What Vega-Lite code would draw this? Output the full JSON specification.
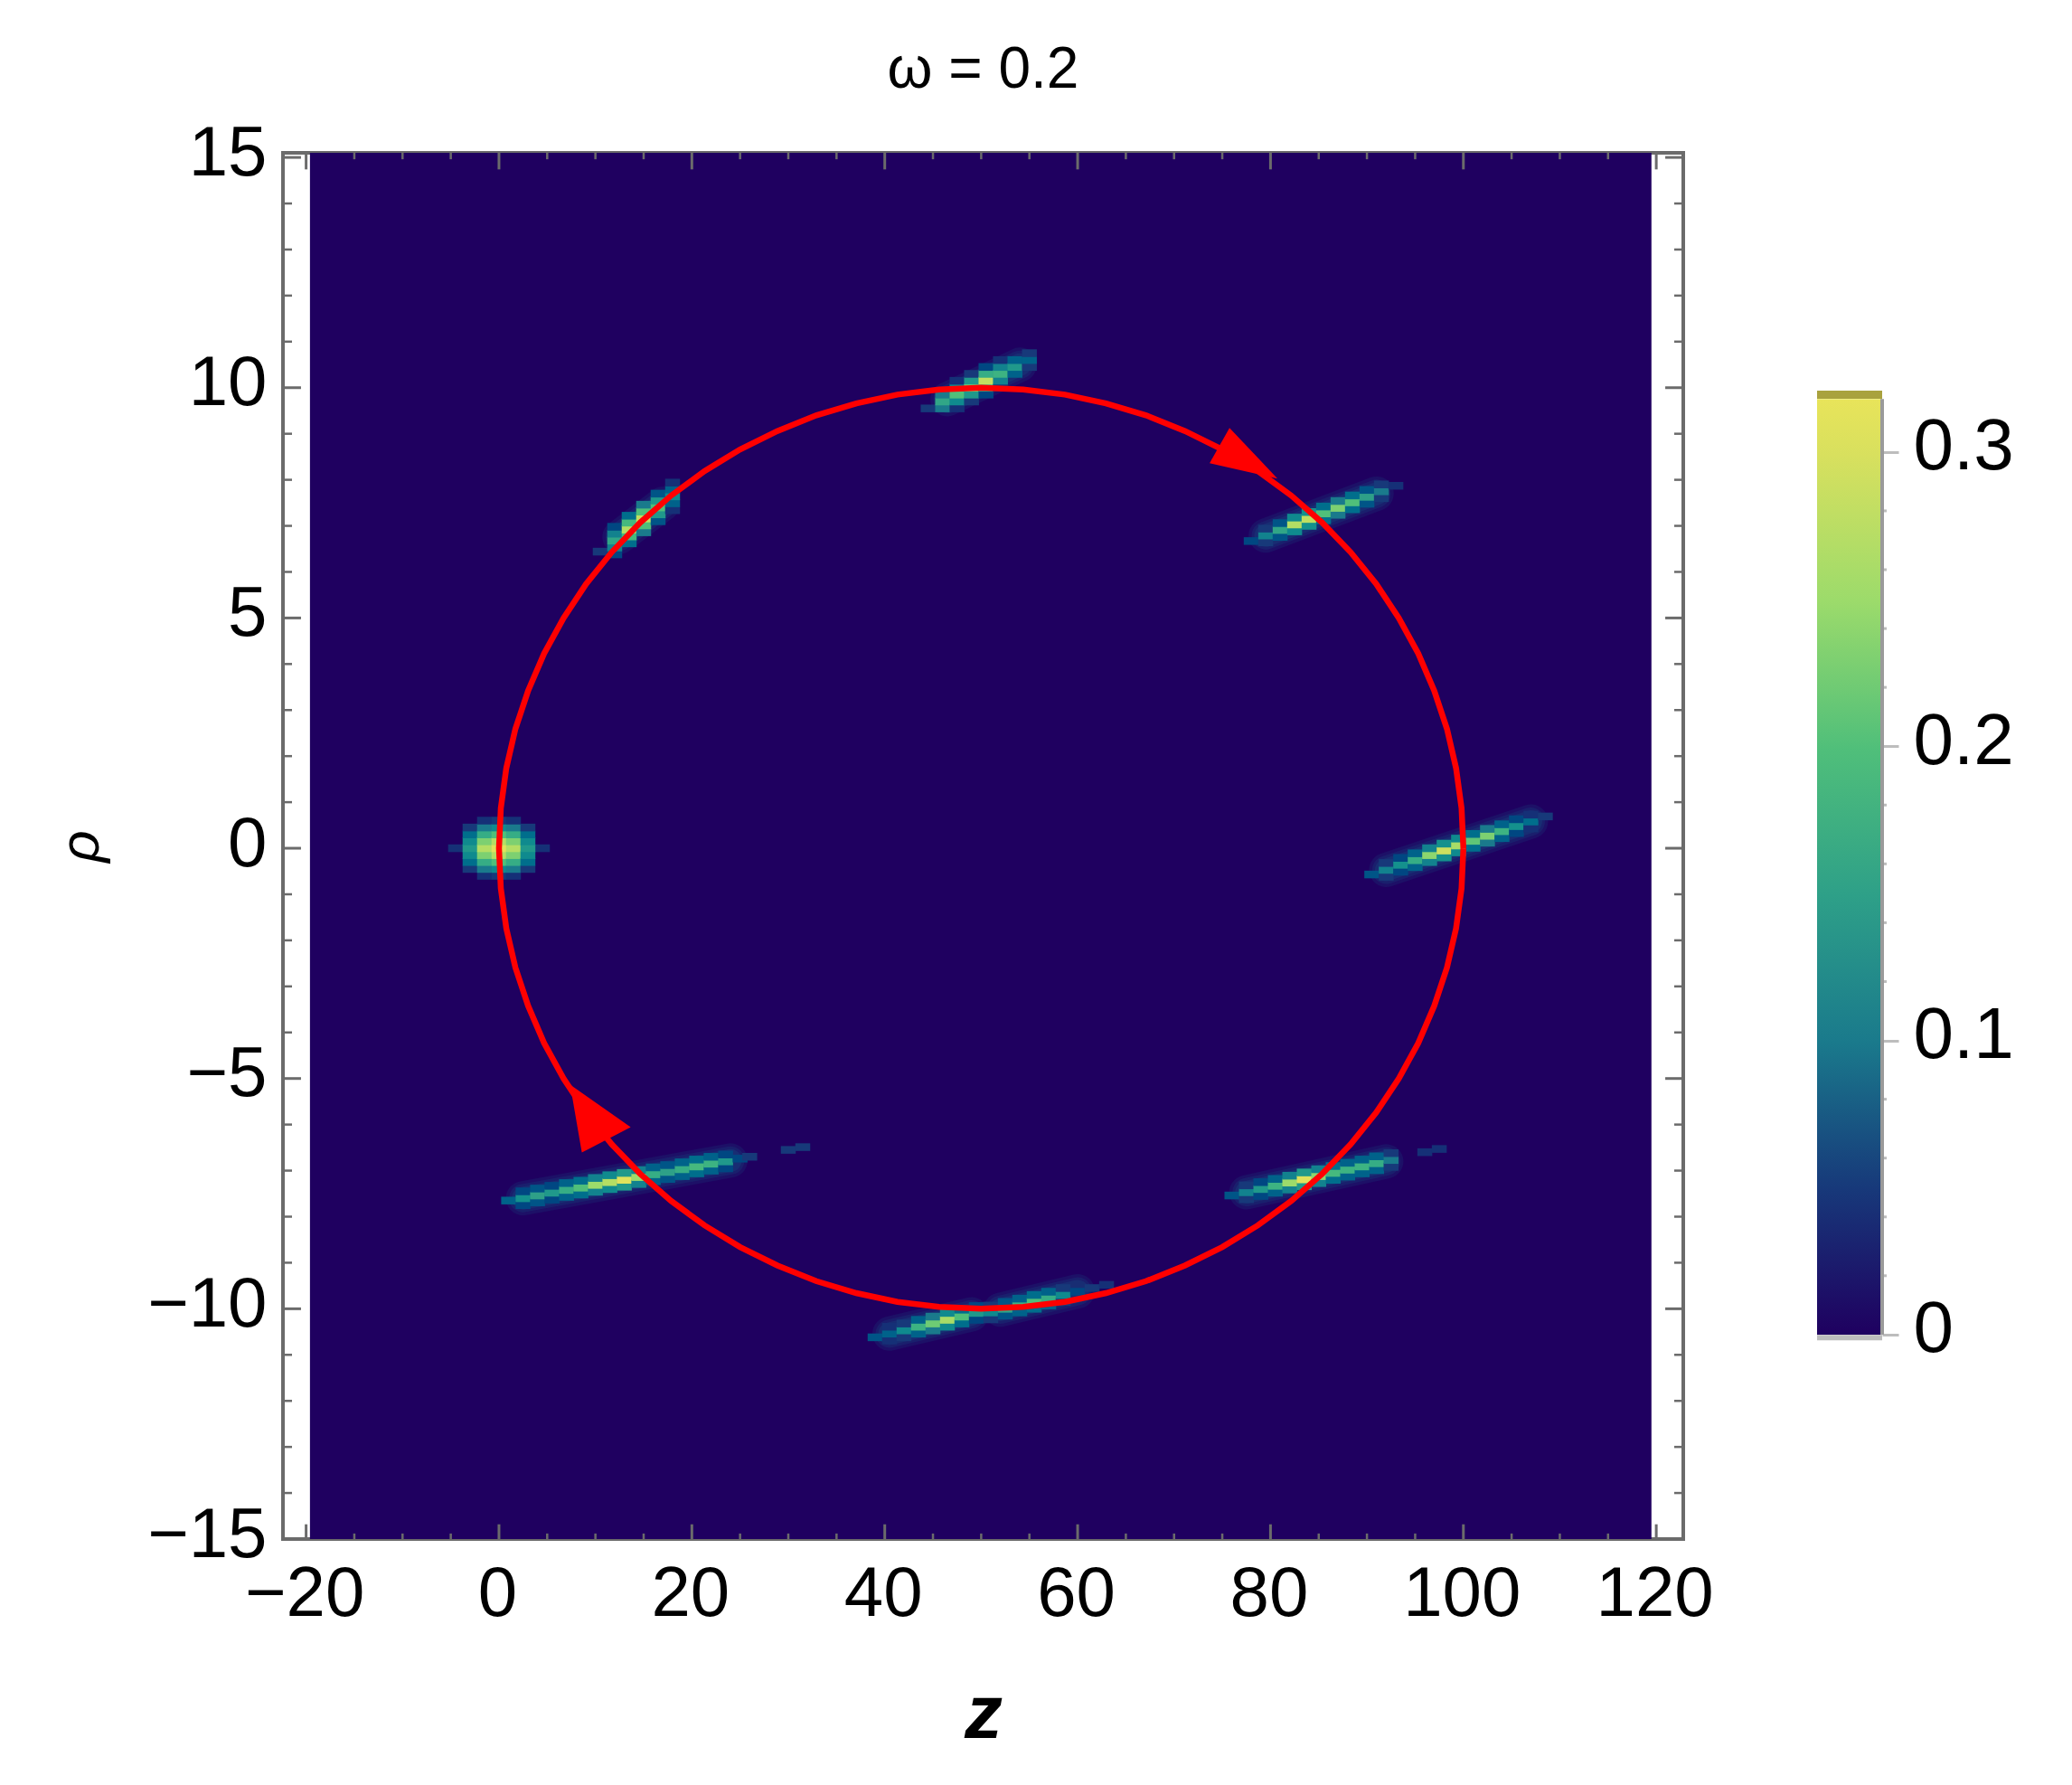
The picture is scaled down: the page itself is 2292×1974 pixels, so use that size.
{
"$schema":"https://vega.github.io/schema/vega-lite/v6.json",
"background":"white",
"padding":{"left":56,"top":44,"right":0,"bottom":0},
"spacing":107,
"config":{"view":{"stroke":null},"font":"Liberation Sans"},
"datasets":{
"xmajor":[{"z":-20},{"z":0},{"z":20},{"z":40},{"z":60},{"z":80},{"z":100},{"z":120}],
"xminor":[{"z":-15},{"z":-10},{"z":-5},{"z":5},{"z":10},{"z":15},{"z":25},{"z":30},{"z":35},{"z":45},{"z":50},{"z":55},{"z":65},{"z":70},{"z":75},{"z":85},{"z":90},{"z":95},{"z":105},{"z":110},{"z":115}],
"ymajor":[{"p":-10},{"p":-5},{"p":0},{"p":5},{"p":10},{"p":15}],
"yminor":[{"p":-14},{"p":-13},{"p":-12},{"p":-11},{"p":-9},{"p":-8},{"p":-7},{"p":-6},{"p":-4},{"p":-3},{"p":-2},{"p":-1},{"p":1},{"p":2},{"p":3},{"p":4},{"p":6},{"p":7},{"p":8},{"p":9},{"p":11},{"p":12},{"p":13},{"p":14}],
"halo":[
{"s":"r","z":92,"p":-0.47},{"s":"r","z":107,"p":0.58},
{"s":"ll","z":2.5,"p":-7.6},{"s":"ll","z":24,"p":-6.78},
{"s":"lr","z":77.5,"p":-7.47},{"s":"lr","z":92,"p":-6.8},
{"s":"b1","z":40.5,"p":-10.54},{"s":"b1","z":49,"p":-10.12},
{"s":"b2","z":52,"p":-10.02},{"s":"b2","z":60,"p":-9.62},
{"s":"ur","z":79.5,"p":6.79},{"s":"ur","z":91,"p":7.7},
{"s":"t","z":46.5,"p":9.75},{"s":"t","z":54,"p":10.5},
{"s":"ul","z":12.5,"p":6.76},{"s":"ul","z":17,"p":7.48},
{"s":"a","z":-1.5,"p":0},{"s":"a","z":1.5,"p":0}
]
},
"hconcat":[
{
"width":1549,
"height":1533,
"view":{"stroke":"#6b6b6b","strokeWidth":4},
"title":{"text":"ω = 0.2","fontSize":64,"fontWeight":"normal","font":"Liberation Sans","offset":21,"anchor":"middle"},
"layer":[
{
"data":{"values":[{"z0":-19.6,"z1":119.5,"p0":-15,"p1":15.1}]},
"mark":{"type":"rect","color":"#1f0060"},
"encoding":{
"x":{"field":"z0","type":"quantitative","scale":{"domain":[-22.4,122.8],"nice":false,"zero":false},
"axis":{"title":"z","titleFontSize":84,"titleFontStyle":"italic","titleFontWeight":"bold","titlePadding":53,"values":[-20,0,20,40,60,80,100,120],"labelFontSize":78,"labelColor":"black","labelPadding":22,"labelOffset":-2,"ticks":false,"domain":false,"grid":false,"labelFlush":false,"labelOverlap":false}},
"x2":{"field":"z1"},
"y":{"field":"p0","type":"quantitative","scale":{"domain":[-15,15.1],"nice":false,"zero":false},
"axis":{"title":"ρ","titleFontSize":62,"titleFontStyle":"italic","titleFontWeight":"normal","titlePadding":41,"values":[-15,-10,-5,0,5,10,15],"labelFontSize":78,"labelColor":"black","labelPadding":18,"labelOffset":-4,"ticks":false,"domain":false,"grid":false,"labelFlush":false,"labelOverlap":false}},
"y2":{"field":"p1"}
}
},
{"data":{"name":"halo"},"mark":{"type":"line","color":"#17497f","strokeWidth":38,"strokeCap":"round","opacity":0.22},"encoding":{"x":{"field":"z","type":"quantitative"},"y":{"field":"p","type":"quantitative"},"detail":{"field":"s"}}},
{"data":{"name":"halo"},"mark":{"type":"line","color":"#17497f","strokeWidth":31,"strokeCap":"round","opacity":0.28},"encoding":{"x":{"field":"z","type":"quantitative"},"y":{"field":"p","type":"quantitative"},"detail":{"field":"s"}}},
{"data":{"name":"halo"},"mark":{"type":"line","color":"#17497f","strokeWidth":25,"strokeCap":"round","opacity":0.35},"encoding":{"x":{"field":"z","type":"quantitative"},"y":{"field":"p","type":"quantitative"},"detail":{"field":"s"}}},
{
"data":{"values":[
{"z":-4.5,"p":-0.15,"v":0.03},{"z":-4.5,"p":0,"v":0.04},{"z":-4.5,"p":0.15,"v":0.03},
{"z":4.5,"p":-0.15,"v":0.03},{"z":4.5,"p":0,"v":0.04},{"z":4.5,"p":0.15,"v":0.03},
{"z":-3,"p":-0.6,"v":0.02},{"z":-3,"p":-0.45,"v":0.05},{"z":-3,"p":-0.3,"v":0.09},{"z":-3,"p":-0.15,"v":0.12},{"z":-3,"p":0,"v":0.14},{"z":-3,"p":0.15,"v":0.12},{"z":-3,"p":0.3,"v":0.09},{"z":-3,"p":0.45,"v":0.05},{"z":-3,"p":0.6,"v":0.02},
{"z":-1.5,"p":-0.6,"v":0.04},{"z":-1.5,"p":-0.45,"v":0.1},{"z":-1.5,"p":-0.3,"v":0.17},{"z":-1.5,"p":-0.15,"v":0.23},{"z":-1.5,"p":0,"v":0.27},{"z":-1.5,"p":0.15,"v":0.23},{"z":-1.5,"p":0.3,"v":0.17},{"z":-1.5,"p":0.45,"v":0.1},{"z":-1.5,"p":0.6,"v":0.04},
{"z":0,"p":-0.6,"v":0.05},{"z":0,"p":-0.45,"v":0.12},{"z":0,"p":-0.3,"v":0.2},{"z":0,"p":-0.15,"v":0.27},{"z":0,"p":0,"v":0.31},{"z":0,"p":0.15,"v":0.27},{"z":0,"p":0.3,"v":0.2},{"z":0,"p":0.45,"v":0.12},{"z":0,"p":0.6,"v":0.05},
{"z":1.5,"p":-0.6,"v":0.04},{"z":1.5,"p":-0.45,"v":0.1},{"z":1.5,"p":-0.3,"v":0.17},{"z":1.5,"p":-0.15,"v":0.23},{"z":1.5,"p":0,"v":0.27},{"z":1.5,"p":0.15,"v":0.23},{"z":1.5,"p":0.3,"v":0.17},{"z":1.5,"p":0.45,"v":0.1},{"z":1.5,"p":0.6,"v":0.04},
{"z":3,"p":-0.6,"v":0.02},{"z":3,"p":-0.45,"v":0.05},{"z":3,"p":-0.3,"v":0.09},{"z":3,"p":-0.15,"v":0.12},{"z":3,"p":0,"v":0.14},{"z":3,"p":0.15,"v":0.12},{"z":3,"p":0.3,"v":0.09},{"z":3,"p":0.45,"v":0.05},{"z":3,"p":0.6,"v":0.02},

{"z":89,"p":-0.68,"v":0.03},
{"z":90.5,"p":-0.72,"v":0.03},{"z":90.5,"p":-0.57,"v":0.07},{"z":90.5,"p":-0.42,"v":0.03},
{"z":92,"p":-0.62,"v":0.05},{"z":92,"p":-0.47,"v":0.11},{"z":92,"p":-0.32,"v":0.05},
{"z":93.5,"p":-0.51,"v":0.06},{"z":93.5,"p":-0.36,"v":0.13},{"z":93.5,"p":-0.21,"v":0.06},
{"z":95,"p":-0.41,"v":0.08},{"z":95,"p":-0.26,"v":0.17},{"z":95,"p":-0.11,"v":0.08},
{"z":96.5,"p":-0.3,"v":0.11},{"z":96.5,"p":-0.15,"v":0.24},{"z":96.5,"p":0,"v":0.11},
{"z":98,"p":-0.2,"v":0.13},{"z":98,"p":-0.05,"v":0.29},{"z":98,"p":0.1,"v":0.13},
{"z":99.5,"p":-0.09,"v":0.12},{"z":99.5,"p":0.06,"v":0.26},{"z":99.5,"p":0.21,"v":0.12},
{"z":101,"p":0.01,"v":0.09},{"z":101,"p":0.16,"v":0.21},{"z":101,"p":0.31,"v":0.09},
{"z":102.5,"p":0.12,"v":0.1},{"z":102.5,"p":0.27,"v":0.23},{"z":102.5,"p":0.42,"v":0.1},
{"z":104,"p":0.22,"v":0.08},{"z":104,"p":0.37,"v":0.18},{"z":104,"p":0.52,"v":0.08},
{"z":105.5,"p":0.33,"v":0.06},{"z":105.5,"p":0.48,"v":0.13},{"z":105.5,"p":0.63,"v":0.06},
{"z":107,"p":0.43,"v":0.04},{"z":107,"p":0.58,"v":0.09},{"z":107,"p":0.73,"v":0.04},
{"z":108.5,"p":0.69,"v":0.05},{"z":110,"p":0.79,"v":0.03},

{"z":-5,"p":-7.88,"v":0.02},{"z":-3.5,"p":-7.82,"v":0.02},{"z":-2,"p":-7.77,"v":0.02},
{"z":1,"p":-7.8,"v":0.03},{"z":1,"p":-7.65,"v":0.08},{"z":1,"p":-7.5,"v":0.03},
{"z":2.5,"p":-7.75,"v":0.06},{"z":2.5,"p":-7.6,"v":0.13},{"z":2.5,"p":-7.45,"v":0.06},
{"z":4,"p":-7.69,"v":0.07},{"z":4,"p":-7.54,"v":0.15},{"z":4,"p":-7.39,"v":0.07},
{"z":5.5,"p":-7.63,"v":0.06},{"z":5.5,"p":-7.48,"v":0.14},{"z":5.5,"p":-7.33,"v":0.06},
{"z":7,"p":-7.57,"v":0.08},{"z":7,"p":-7.42,"v":0.17},{"z":7,"p":-7.27,"v":0.08},
{"z":8.5,"p":-7.52,"v":0.09},{"z":8.5,"p":-7.37,"v":0.2},{"z":8.5,"p":-7.22,"v":0.09},
{"z":10,"p":-7.46,"v":0.11},{"z":10,"p":-7.31,"v":0.25},{"z":10,"p":-7.16,"v":0.11},
{"z":11.5,"p":-7.4,"v":0.12},{"z":11.5,"p":-7.25,"v":0.27},{"z":11.5,"p":-7.1,"v":0.12},
{"z":13,"p":-7.35,"v":0.14},{"z":13,"p":-7.2,"v":0.31},{"z":13,"p":-7.05,"v":0.14},
{"z":14.5,"p":-7.29,"v":0.11},{"z":14.5,"p":-7.14,"v":0.25},{"z":14.5,"p":-6.99,"v":0.11},
{"z":16,"p":-7.23,"v":0.08},{"z":16,"p":-7.08,"v":0.17},{"z":16,"p":-6.93,"v":0.08},
{"z":17.5,"p":-7.18,"v":0.07},{"z":17.5,"p":-7.03,"v":0.15},{"z":17.5,"p":-6.88,"v":0.07},
{"z":19,"p":-7.12,"v":0.08},{"z":19,"p":-6.97,"v":0.17},{"z":19,"p":-6.82,"v":0.08},
{"z":20.5,"p":-7.06,"v":0.09},{"z":20.5,"p":-6.91,"v":0.19},{"z":20.5,"p":-6.76,"v":0.09},
{"z":22,"p":-7,"v":0.08},{"z":22,"p":-6.85,"v":0.18},{"z":22,"p":-6.7,"v":0.08},
{"z":23.5,"p":-6.95,"v":0.06},{"z":23.5,"p":-6.8,"v":0.14},{"z":23.5,"p":-6.65,"v":0.06},
{"z":25,"p":-6.74,"v":0.06},{"z":26,"p":-6.7,"v":0.05},
{"z":28.5,"p":-6.6,"v":0.03},{"z":30,"p":-6.55,"v":0.05},{"z":31.5,"p":-6.49,"v":0.05},{"z":33,"p":-6.43,"v":0.03},

{"z":74.5,"p":-7.61,"v":0.03},
{"z":76,"p":-7.69,"v":0.03},{"z":76,"p":-7.54,"v":0.07},{"z":76,"p":-7.39,"v":0.03},
{"z":77.5,"p":-7.62,"v":0.05},{"z":77.5,"p":-7.47,"v":0.11},{"z":77.5,"p":-7.32,"v":0.05},
{"z":79,"p":-7.55,"v":0.06},{"z":79,"p":-7.4,"v":0.14},{"z":79,"p":-7.25,"v":0.06},
{"z":80.5,"p":-7.48,"v":0.08},{"z":80.5,"p":-7.33,"v":0.18},{"z":80.5,"p":-7.18,"v":0.08},
{"z":82,"p":-7.41,"v":0.11},{"z":82,"p":-7.26,"v":0.25},{"z":82,"p":-7.11,"v":0.11},
{"z":83.5,"p":-7.34,"v":0.14},{"z":83.5,"p":-7.19,"v":0.31},{"z":83.5,"p":-7.04,"v":0.14},
{"z":85,"p":-7.27,"v":0.11},{"z":85,"p":-7.12,"v":0.24},{"z":85,"p":-6.97,"v":0.11},
{"z":86.5,"p":-7.2,"v":0.09},{"z":86.5,"p":-7.05,"v":0.19},{"z":86.5,"p":-6.9,"v":0.09},
{"z":88,"p":-7.13,"v":0.08},{"z":88,"p":-6.98,"v":0.18},{"z":88,"p":-6.83,"v":0.08},
{"z":89.5,"p":-7.06,"v":0.08},{"z":89.5,"p":-6.91,"v":0.18},{"z":89.5,"p":-6.76,"v":0.08},
{"z":91,"p":-6.99,"v":0.08},{"z":91,"p":-6.84,"v":0.17},{"z":91,"p":-6.69,"v":0.08},
{"z":92.5,"p":-6.92,"v":0.05},{"z":92.5,"p":-6.77,"v":0.1},{"z":92.5,"p":-6.62,"v":0.05},
{"z":94,"p":-6.7,"v":0.03},{"z":96,"p":-6.6,"v":0.04},{"z":97.5,"p":-6.53,"v":0.04},

{"z":37.5,"p":-10.69,"v":0.03},
{"z":39,"p":-10.77,"v":0.03},{"z":39,"p":-10.62,"v":0.07},{"z":39,"p":-10.47,"v":0.03},
{"z":40.5,"p":-10.69,"v":0.04},{"z":40.5,"p":-10.54,"v":0.08},{"z":40.5,"p":-10.39,"v":0.04},
{"z":42,"p":-10.62,"v":0.05},{"z":42,"p":-10.47,"v":0.12},{"z":42,"p":-10.32,"v":0.05},
{"z":43.5,"p":-10.54,"v":0.08},{"z":43.5,"p":-10.39,"v":0.18},{"z":43.5,"p":-10.24,"v":0.08},
{"z":45,"p":-10.47,"v":0.1},{"z":45,"p":-10.32,"v":0.22},{"z":45,"p":-10.17,"v":0.1},
{"z":46.5,"p":-10.39,"v":0.12},{"z":46.5,"p":-10.24,"v":0.26},{"z":46.5,"p":-10.09,"v":0.12},
{"z":48,"p":-10.32,"v":0.09},{"z":48,"p":-10.17,"v":0.2},{"z":48,"p":-10.02,"v":0.09},
{"z":49.5,"p":-10.24,"v":0.06},{"z":49.5,"p":-10.09,"v":0.14},{"z":49.5,"p":-9.94,"v":0.06},
{"z":51,"p":-10.23,"v":0.05},{"z":51,"p":-10.08,"v":0.12},{"z":51,"p":-9.93,"v":0.05},
{"z":52.5,"p":-10.15,"v":0.07},{"z":52.5,"p":-10,"v":0.16},{"z":52.5,"p":-9.85,"v":0.07},
{"z":54,"p":-10.08,"v":0.08},{"z":54,"p":-9.93,"v":0.18},{"z":54,"p":-9.78,"v":0.08},
{"z":55.5,"p":-10,"v":0.09},{"z":55.5,"p":-9.85,"v":0.2},{"z":55.5,"p":-9.7,"v":0.09},
{"z":57,"p":-9.93,"v":0.08},{"z":57,"p":-9.78,"v":0.17},{"z":57,"p":-9.63,"v":0.08},
{"z":58.5,"p":-9.85,"v":0.05},{"z":58.5,"p":-9.7,"v":0.12},{"z":58.5,"p":-9.55,"v":0.05},
{"z":60,"p":-9.63,"v":0.06},{"z":61.5,"p":-9.55,"v":0.05},{"z":63,"p":-9.48,"v":0.04},

{"z":78,"p":6.52,"v":0.03},{"z":78,"p":6.67,"v":0.06},{"z":78,"p":6.82,"v":0.03},
{"z":79.5,"p":6.64,"v":0.05},{"z":79.5,"p":6.79,"v":0.11},{"z":79.5,"p":6.94,"v":0.05},
{"z":81,"p":6.76,"v":0.07},{"z":81,"p":6.91,"v":0.16},{"z":81,"p":7.06,"v":0.07},
{"z":82.5,"p":6.88,"v":0.12},{"z":82.5,"p":7.03,"v":0.27},{"z":82.5,"p":7.18,"v":0.12},
{"z":84,"p":7,"v":0.13},{"z":84,"p":7.15,"v":0.28},{"z":84,"p":7.3,"v":0.13},
{"z":85.5,"p":7.12,"v":0.09},{"z":85.5,"p":7.27,"v":0.2},{"z":85.5,"p":7.42,"v":0.09},
{"z":87,"p":7.24,"v":0.1},{"z":87,"p":7.39,"v":0.23},{"z":87,"p":7.54,"v":0.1},
{"z":88.5,"p":7.36,"v":0.09},{"z":88.5,"p":7.51,"v":0.2},{"z":88.5,"p":7.66,"v":0.09},
{"z":90,"p":7.48,"v":0.07},{"z":90,"p":7.63,"v":0.15},{"z":90,"p":7.78,"v":0.07},
{"z":91.5,"p":7.6,"v":0.05},{"z":91.5,"p":7.75,"v":0.1},{"z":91.5,"p":7.9,"v":0.05},
{"z":93,"p":7.87,"v":0.04},

{"z":44.5,"p":9.4,"v":0.03},{"z":44.5,"p":9.55,"v":0.05},{"z":44.5,"p":9.7,"v":0.03},
{"z":46,"p":9.4,"v":0.03},{"z":46,"p":9.55,"v":0.1},{"z":46,"p":9.7,"v":0.16},{"z":46,"p":9.85,"v":0.1},{"z":46,"p":10,"v":0.03},
{"z":47.5,"p":9.55,"v":0.04},{"z":47.5,"p":9.7,"v":0.12},{"z":47.5,"p":9.85,"v":0.2},{"z":47.5,"p":10,"v":0.12},{"z":47.5,"p":10.15,"v":0.04},
{"z":49,"p":9.7,"v":0.05},{"z":49,"p":9.85,"v":0.14},{"z":49,"p":10,"v":0.24},{"z":49,"p":10.15,"v":0.14},{"z":49,"p":10.3,"v":0.05},
{"z":50.5,"p":9.85,"v":0.06},{"z":50.5,"p":10,"v":0.17},{"z":50.5,"p":10.15,"v":0.28},{"z":50.5,"p":10.3,"v":0.17},{"z":50.5,"p":10.45,"v":0.06},
{"z":52,"p":10,"v":0.04},{"z":52,"p":10.15,"v":0.11},{"z":52,"p":10.3,"v":0.18},{"z":52,"p":10.45,"v":0.11},{"z":52,"p":10.6,"v":0.04},
{"z":53.5,"p":10.15,"v":0.03},{"z":53.5,"p":10.3,"v":0.08},{"z":53.5,"p":10.45,"v":0.14},{"z":53.5,"p":10.6,"v":0.08},{"z":53.5,"p":10.75,"v":0.03},
{"z":55,"p":10.45,"v":0.05},{"z":55,"p":10.6,"v":0.08},{"z":55,"p":10.75,"v":0.05},
{"z":56.5,"p":10.75,"v":0.02},

{"z":10.5,"p":6.29,"v":0.02},{"z":10.5,"p":6.44,"v":0.05},{"z":10.5,"p":6.59,"v":0.02},
{"z":12,"p":6.23,"v":0.02},{"z":12,"p":6.38,"v":0.06},{"z":12,"p":6.53,"v":0.11},{"z":12,"p":6.68,"v":0.16},{"z":12,"p":6.83,"v":0.11},{"z":12,"p":6.98,"v":0.06},{"z":12,"p":7.13,"v":0.02},
{"z":13.5,"p":6.47,"v":0.03},{"z":13.5,"p":6.62,"v":0.09},{"z":13.5,"p":6.77,"v":0.19},{"z":13.5,"p":6.92,"v":0.27},{"z":13.5,"p":7.07,"v":0.19},{"z":13.5,"p":7.22,"v":0.09},{"z":13.5,"p":7.37,"v":0.03},
{"z":15,"p":6.71,"v":0.03},{"z":15,"p":6.86,"v":0.1},{"z":15,"p":7.01,"v":0.2},{"z":15,"p":7.16,"v":0.28},{"z":15,"p":7.31,"v":0.2},{"z":15,"p":7.46,"v":0.1},{"z":15,"p":7.61,"v":0.03},
{"z":16.5,"p":6.95,"v":0.02},{"z":16.5,"p":7.1,"v":0.07},{"z":16.5,"p":7.25,"v":0.14},{"z":16.5,"p":7.4,"v":0.2},{"z":16.5,"p":7.55,"v":0.14},{"z":16.5,"p":7.7,"v":0.07},{"z":16.5,"p":7.85,"v":0.02},
{"z":18,"p":7.34,"v":0.04},{"z":18,"p":7.49,"v":0.08},{"z":18,"p":7.64,"v":0.12},{"z":18,"p":7.79,"v":0.08},{"z":18,"p":7.94,"v":0.04},
{"z":19.5,"p":7.88,"v":0.03}
]},
"transform":[{"filter":"datum.v >= 0.04"}],
"mark":{"type":"rect","width":16.5,"height":8.5},
"encoding":{
"x":{"field":"z","type":"quantitative"},
"y":{"field":"p","type":"quantitative"},
"color":{"field":"v","type":"quantitative","legend":null,"scale":{"domain":[0,0.05,0.1,0.15,0.2,0.25,0.3,0.32],"range":["#1f0060","#17397a","#1a7a8c","#2ea088","#50bf7a","#9cdb6b","#d8e05e","#e8e45a"]}}
}
},
{
"data":{"values":[
{"i":0,"z":100,"p":0},{"i":1,"z":99.81,"p":-0.87},{"i":2,"z":99.24,"p":-1.74},{"i":3,"z":98.3,"p":-2.59},{"i":4,"z":96.98,"p":-3.42},{"i":5,"z":95.32,"p":-4.23},{"i":6,"z":93.3,"p":-5},{"i":7,"z":90.96,"p":-5.74},{"i":8,"z":88.3,"p":-6.43},{"i":9,"z":85.36,"p":-7.07},{"i":10,"z":82.14,"p":-7.66},{"i":11,"z":78.68,"p":-8.19},{"i":12,"z":75,"p":-8.66},{"i":13,"z":71.13,"p":-9.06},{"i":14,"z":67.1,"p":-9.4},{"i":15,"z":62.94,"p":-9.66},{"i":16,"z":58.68,"p":-9.85},{"i":17,"z":54.36,"p":-9.96},{"i":18,"z":50,"p":-10},
{"i":19,"z":45.64,"p":-9.96},{"i":20,"z":41.32,"p":-9.85},{"i":21,"z":37.06,"p":-9.66},{"i":22,"z":32.9,"p":-9.4},{"i":23,"z":28.87,"p":-9.06},{"i":24,"z":25,"p":-8.66},{"i":25,"z":21.32,"p":-8.19},{"i":26,"z":17.86,"p":-7.66},{"i":27,"z":14.64,"p":-7.07},{"i":28,"z":11.7,"p":-6.43},{"i":29,"z":9.04,"p":-5.74},{"i":30,"z":6.7,"p":-5},{"i":31,"z":4.68,"p":-4.23},{"i":32,"z":3.02,"p":-3.42},{"i":33,"z":1.7,"p":-2.59},{"i":34,"z":0.76,"p":-1.74},{"i":35,"z":0.19,"p":-0.87},{"i":36,"z":0,"p":0},
{"i":37,"z":0.19,"p":0.87},{"i":38,"z":0.76,"p":1.74},{"i":39,"z":1.7,"p":2.59},{"i":40,"z":3.02,"p":3.42},{"i":41,"z":4.68,"p":4.23},{"i":42,"z":6.7,"p":5},{"i":43,"z":9.04,"p":5.74},{"i":44,"z":11.7,"p":6.43},{"i":45,"z":14.64,"p":7.07},{"i":46,"z":17.86,"p":7.66},{"i":47,"z":21.32,"p":8.19},{"i":48,"z":25,"p":8.66},{"i":49,"z":28.87,"p":9.06},{"i":50,"z":32.9,"p":9.4},{"i":51,"z":37.06,"p":9.66},{"i":52,"z":41.32,"p":9.85},{"i":53,"z":45.64,"p":9.96},{"i":54,"z":50,"p":10},
{"i":55,"z":54.36,"p":9.96},{"i":56,"z":58.68,"p":9.85},{"i":57,"z":62.94,"p":9.66},{"i":58,"z":67.1,"p":9.4},{"i":59,"z":71.13,"p":9.06},{"i":60,"z":75,"p":8.66},{"i":61,"z":78.68,"p":8.19},{"i":62,"z":82.14,"p":7.66},{"i":63,"z":85.36,"p":7.07},{"i":64,"z":88.3,"p":6.43},{"i":65,"z":90.96,"p":5.74},{"i":66,"z":93.3,"p":5},{"i":67,"z":95.32,"p":4.23},{"i":68,"z":96.98,"p":3.42},{"i":69,"z":98.3,"p":2.59},{"i":70,"z":99.24,"p":1.74},{"i":71,"z":99.81,"p":0.87},{"i":72,"z":100,"p":0}
]},
"mark":{"type":"line","color":"#ff0000","strokeWidth":6.5,"clip":true},
"encoding":{
"x":{"field":"z","type":"quantitative"},
"y":{"field":"p","type":"quantitative"},
"order":{"field":"i","type":"quantitative"}
}
},
{
"data":{"values":[{"z":76.5,"p":8.5}]},
"mark":{"type":"point","filled":true,"color":"#ff0000","opacity":1,"size":10000,"shape":"M -0.16 -0.64 L -0.6 0.14 L 0.9 0.48 Z"},
"encoding":{"x":{"field":"z","type":"quantitative"},"y":{"field":"p","type":"quantitative"}}
},
{
"data":{"values":[{"z":10,"p":-5.94}]},
"mark":{"type":"point","filled":true,"color":"#ff0000","opacity":1,"size":10000,"shape":"M -0.56 -0.82 L 0.78 0.12 L -0.3 0.68 Z"},
"encoding":{"x":{"field":"z","type":"quantitative"},"y":{"field":"p","type":"quantitative"}}
},
{"data":{"name":"xmajor"},"mark":{"type":"rule","color":"#6b6b6b","strokeWidth":3},"encoding":{"x":{"field":"z","type":"quantitative"},"y":{"datum":-15},"y2":{"datum":-14.68}}},
{"data":{"name":"xminor"},"mark":{"type":"rule","color":"#6b6b6b","strokeWidth":2.5},"encoding":{"x":{"field":"z","type":"quantitative"},"y":{"datum":-15},"y2":{"datum":-14.88}}},
{"data":{"name":"xmajor"},"mark":{"type":"rule","color":"#6b6b6b","strokeWidth":3},"encoding":{"x":{"field":"z","type":"quantitative"},"y":{"datum":15.1},"y2":{"datum":14.74}}},
{"data":{"name":"xminor"},"mark":{"type":"rule","color":"#6b6b6b","strokeWidth":2.5},"encoding":{"x":{"field":"z","type":"quantitative"},"y":{"datum":15.1},"y2":{"datum":14.96}}},
{"data":{"name":"ymajor"},"mark":{"type":"rule","color":"#6b6b6b","strokeWidth":3},"encoding":{"y":{"field":"p","type":"quantitative"},"x":{"datum":-22.4},"x2":{"datum":-20.53}}},
{"data":{"name":"yminor"},"mark":{"type":"rule","color":"#6b6b6b","strokeWidth":2.5},"encoding":{"y":{"field":"p","type":"quantitative"},"x":{"datum":-22.4},"x2":{"datum":-21.46}}},
{"data":{"name":"ymajor"},"mark":{"type":"rule","color":"#6b6b6b","strokeWidth":3},"encoding":{"y":{"field":"p","type":"quantitative"},"x":{"datum":122.8},"x2":{"datum":120.93}}},
{"data":{"name":"yminor"},"mark":{"type":"rule","color":"#6b6b6b","strokeWidth":2.5},"encoding":{"y":{"field":"p","type":"quantitative"},"x":{"datum":122.8},"x2":{"datum":121.86}}}
]
},
{
"width":72,
"height":1533,
"layer":[
{
"data":{"values":[{"a":0,"b":1,"v0":0,"v1":0.318}]},
"mark":{"type":"rect","color":{"gradient":"linear","x1":0,"y1":1,"x2":0,"y2":0,"stops":[{"offset":0,"color":"#1f0060"},{"offset":0.157,"color":"#17397a"},{"offset":0.313,"color":"#1a7a8c"},{"offset":0.47,"color":"#2ea088"},{"offset":0.627,"color":"#50bf7a"},{"offset":0.784,"color":"#9cdb6b"},{"offset":0.94,"color":"#d8e05e"},{"offset":1,"color":"#e8e45a"}]}},
"encoding":{
"x":{"field":"a","type":"quantitative","scale":{"domain":[0,1],"nice":false},"axis":null},
"x2":{"field":"b"},
"y":{"field":"v0","type":"quantitative","scale":{"domain":[-0.0695,0.4017],"nice":false,"zero":false},
"axis":{"orient":"right","title":null,"values":[0,0.1,0.2,0.3],"format":"~g","labelFontSize":80,"labelColor":"black","labelPadding":16,"labelOffset":-5,"tickSize":18,"tickColor":"#bdbdbd","tickWidth":3,"domain":false,"grid":false,"labelFlush":false,"labelOverlap":false}},
"y2":{"field":"v1"}
}
},
{
"data":{"values":[{"v":0.02},{"v":0.04},{"v":0.06},{"v":0.08},{"v":0.12},{"v":0.14},{"v":0.16},{"v":0.18},{"v":0.22},{"v":0.24},{"v":0.26},{"v":0.28}]},
"mark":{"type":"rule","color":"#bdbdbd","strokeWidth":3},
"encoding":{"y":{"field":"v","type":"quantitative"},"x":{"datum":1},"x2":{"datum":1.07}}
},
{
"data":{"values":[{"a":1,"v0":0,"v1":0.318}]},
"mark":{"type":"rule","color":"#9a9a9a","strokeWidth":4},
"encoding":{"x":{"field":"a","type":"quantitative"},"y":{"field":"v0","type":"quantitative"},"y2":{"field":"v1"}}
},
{
"data":{"values":[{"v":0.3195}]},
"mark":{"type":"rule","color":"#a9a23e","strokeWidth":9},
"encoding":{"y":{"field":"v","type":"quantitative"},"x":{"datum":0},"x2":{"datum":1}}
},
{
"data":{"values":[{"v":-0.001}]},
"mark":{"type":"rule","color":"#bdbdbd","strokeWidth":6},
"encoding":{"y":{"field":"v","type":"quantitative"},"x":{"datum":0},"x2":{"datum":1}}
}
]
}
]
}
